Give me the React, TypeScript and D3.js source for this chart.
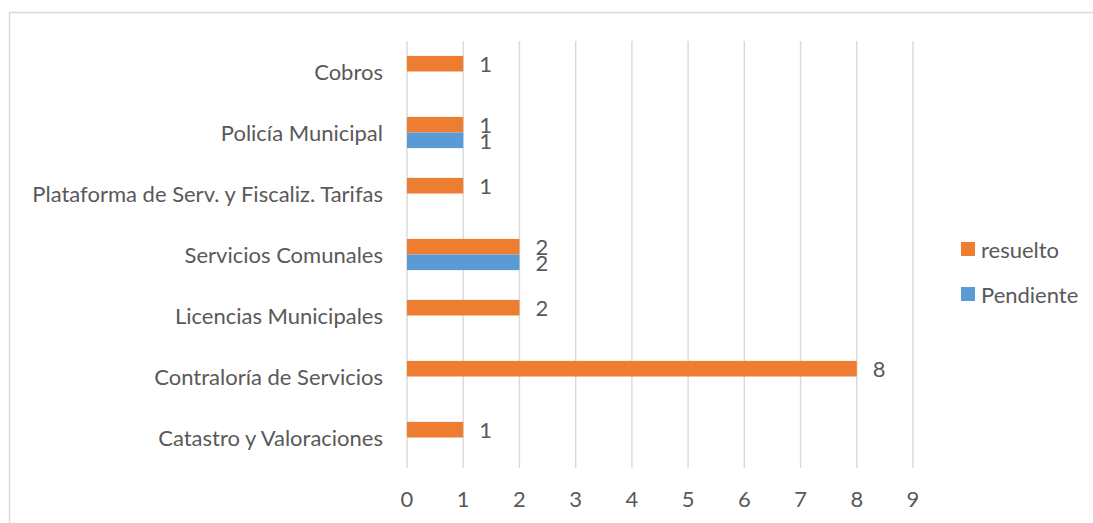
import React from "react";
import * as d3 from "d3";

const categories = [
  "Cobros",
  "Policía Municipal",
  "Plataforma de Serv. y Fiscaliz. Tarifas",
  "Servicios Comunales",
  "Licencias Municipales",
  "Contraloría de Servicios",
  "Catastro y Valoraciones",
];
const resuelto: (number | null)[] = [1, 1, 1, 2, 2, 8, 1];
const pendiente: (number | null)[] = [null, 1, null, 2, null, null, null];
const xTicks = [0, 1, 2, 3, 4, 5, 6, 7, 8, 9];
const seriesNames = ["resuelto", "Pendiente"];
const colors = ["#ED7D31", "#5B9BD5"];

const W = 1093;
const H = 523;
const FONT = "Lato, 'Open Sans', sans-serif";
const TXT = "#595959";

export default function App() {
  const x = d3.scaleLinear().domain([0, 9]).range([407, 913]);
  const y = d3.scaleBand<string>().domain(categories).range([41, 468]).padding(0);
  const barH = 15.6;
  const series = [resuelto, pendiente];

  return (
    <svg
      width={W}
      height={H}
      style={{ position: "absolute", left: 0, top: 0, background: "#fff" }}
      fontFamily={FONT}
    >
      <path d={`M ${W + 5} 12.5 H 9.5 V ${H + 5}`} fill="none" stroke="#d9d9d9" strokeWidth={1.3} />
      {xTicks.map((t) => (
        <g key={t}>
          <line x1={x(t)} x2={x(t)} y1={41} y2={468} stroke="#d9d9d9" strokeWidth={1.4} />
          <text x={x(t)} y={498} textAnchor="middle" dominantBaseline="central" fontSize={22} fill={TXT}>
            {t}
          </text>
        </g>
      ))}
      {categories.map((c) => (
        <text
          key={c}
          x={383}
          y={(y(c) as number) + y.bandwidth() / 2}
          textAnchor="end"
          dominantBaseline="central"
          fontSize={22}
          fill={TXT}
        >
          {c}
        </text>
      ))}
      {series.map((s, si) =>
        categories.map((c, i) => {
          const v = s[i];
          if (v == null) return null;
          const cy = (y(c) as number) + y.bandwidth() / 2;
          const top = si === 0 ? cy - barH : cy;
          return (
            <g key={`${si}-${i}`}>
              <rect x={x(0)} y={top} width={x(v) - x(0)} height={barH} fill={colors[si]} />
              <text
                x={x(v) + 16}
                y={top + barH / 2}
                dominantBaseline="central"
                fontSize={22}
                fill={TXT}
              >
                {v}
              </text>
            </g>
          );
        })
      )}
      {seriesNames.map((n, i) => (
        <g key={n}>
          <rect x={961} y={242 + i * 45} width={14} height={14} fill={colors[i]} />
          <text x={981} y={249 + i * 45} dominantBaseline="central" fontSize={22} fill={TXT}>
            {n}
          </text>
        </g>
      ))}
    </svg>
  );
}
